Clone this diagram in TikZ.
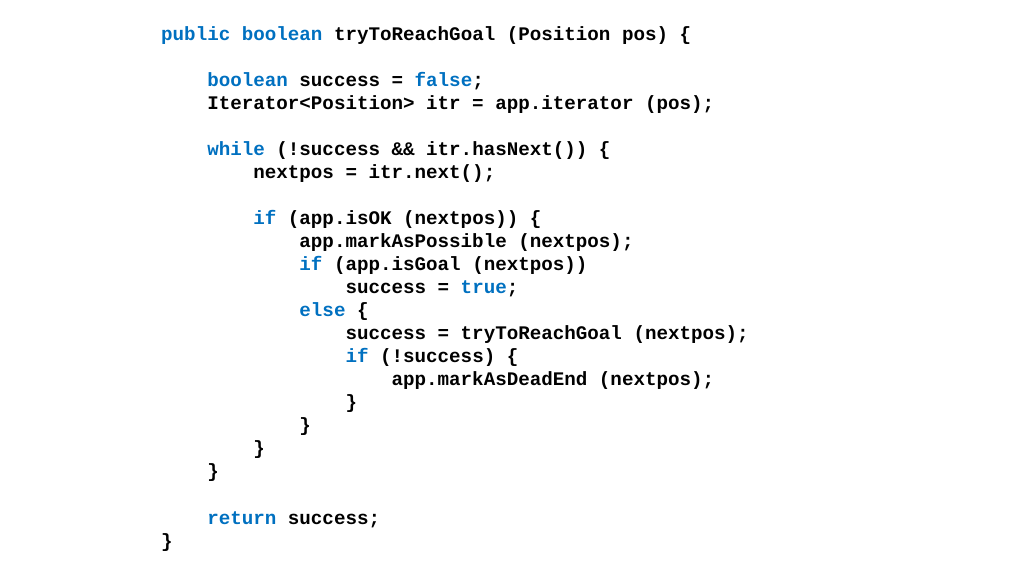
\documentclass[tikz,border=0pt]{standalone}
\usepackage{fontspec}
\setmonofont{Liberation Mono}
\definecolor{kw}{HTML}{0070C0}
\newcommand{\kw}[1]{\textcolor{kw}{#1}}
\tikzset{codeline/.style={anchor=base west,inner sep=0pt,font=\ttfamily\bfseries\fontsize{19.2pt}{23pt}\selectfont}}
\begin{document}
\begin{tikzpicture}[x=1pt,y=1pt]
\useasboundingbox (0,0) rectangle (1024,-576);
\def\cw{11.52}
\def\lh{23.05}
\newcommand{\cl}[4]{\node[codeline] (#1) at ({161+#2*\cw},{-40-#3*\lh}) {#4};}
\cl{l0}{0}{0}{\kw{public} \kw{boolean} tryToReachGoal (Position pos) \{}
\cl{l2}{4}{2}{\kw{boolean} success = \kw{false};}
\cl{l3}{4}{3}{Iterator<Position> itr = app.iterator (pos);}
\cl{l5}{4}{5}{\kw{while} (!success \&\& itr.hasNext()) \{}
\cl{l6}{8}{6}{nextpos = itr.next();}
\cl{l8}{8}{8}{\kw{if} (app.isOK (nextpos)) \{}
\cl{l9}{12}{9}{app.markAsPossible (nextpos);}
\cl{l10}{12}{10}{\kw{if} (app.isGoal (nextpos))}
\cl{l11}{16}{11}{success = \kw{true};}
\cl{l12}{12}{12}{\kw{else} \{}
\cl{l13}{16}{13}{success = tryToReachGoal (nextpos);}
\cl{l14}{16}{14}{\kw{if} (!success) \{}
\cl{l15}{20}{15}{app.markAsDeadEnd (nextpos);}
\cl{l16}{16}{16}{\}}
\cl{l17}{12}{17}{\}}
\cl{l18}{8}{18}{\}}
\cl{l19}{4}{19}{\}}
\cl{l21}{4}{21}{\kw{return} success;}
\cl{l22}{0}{22}{\}}
\end{tikzpicture}
\end{document}
